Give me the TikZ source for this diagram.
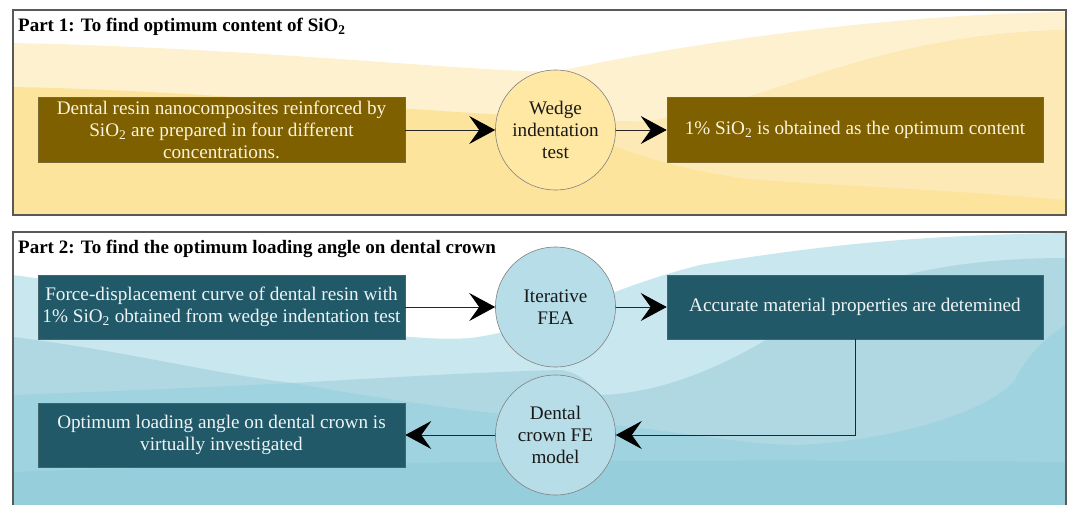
\documentclass[tikz,border=0pt]{standalone}
\usepackage{fontspec}
\setmainfont{Liberation Serif}
\usetikzlibrary{arrows.meta}
\definecolor{ybrown}{HTML}{7F6000}
\definecolor{ytext}{HTML}{FBF3DC}
\definecolor{ycirc}{HTML}{FFE8A3}
\definecolor{ylight}{HTML}{FEF1CF}
\definecolor{ymed}{HTML}{FDE9B6}
\definecolor{ygold}{HTML}{FDE49D}
\definecolor{teal}{HTML}{215968}
\definecolor{ttext}{HTML}{EEF4F5}
\definecolor{tcirc}{HTML}{B7DEE8}
\definecolor{blight}{HTML}{C9E7EE}
\definecolor{bmed}{HTML}{AFD8E3}
\definecolor{bdark}{HTML}{A0D3E0}
\definecolor{bdeep}{HTML}{96CEDB}
\definecolor{frame}{HTML}{595959}
\begin{document}
\begin{tikzpicture}[x=1pt,y=-1pt,
  txt/.style={font=\fontsize{19.2}{22}\selectfont},
  boxbase/.style={rectangle, minimum height=65pt, align=center, inner sep=0pt, txt, line width=0.6pt},
  p1box/.style={boxbase, fill=ybrown, draw=ybrown!70!black!80!white, text=ytext},
  p2box/.style={boxbase, fill=teal, draw=teal!70!black!80!white, text=ttext},
  circbase/.style={circle, minimum size=120pt, inner sep=0pt, align=center, txt, draw=black!50, line width=0.6pt, text=black!90},
  p1circ/.style={circbase, fill=ycirc},
  p2circ/.style={circbase, fill=tcirc},
  arr/.style={line width=1pt, draw=black!85, -{Stealth[length=26pt,width=28pt,inset=10pt,black]}},
  paneltitle/.style={anchor=west, inner sep=0pt, font=\fontsize{19}{22}\selectfont\bfseries}
]
\useasboundingbox (0,0) rectangle (1072,504);
\fill[white] (0,0) rectangle (1072,504);

% ---------- Panel 1 background ----------
\begin{scope}
\clip (13,10) rectangle (1066,215);
\fill[ylight] (13,43) .. controls (250,48) and (450,70) .. (555,72) .. controls (700,40) and (900,14) .. (1066,12) -- (1066,215) -- (13,215) -- cycle;
\fill[ygold] (13,87) .. controls (200,90) and (450,115) .. (640,122) .. controls (760,110) and (860,35) .. (1066,30) -- (1066,215) -- (13,215) -- cycle;
\begin{scope}
\clip (13,87) .. controls (200,90) and (450,115) .. (640,122) .. controls (760,110) and (860,35) .. (1066,30) -- (1066,215) -- (13,215) -- cycle;
\fill[ymed] (560,40) -- (1066,0) -- (1066,200) .. controls (950,190) and (850,186) .. (760,180) .. controls (680,172) and (620,150) .. (560,125) -- cycle;
\end{scope}
\end{scope}
\draw[frame, line width=1.2pt] (13,10) rectangle (1066,215);

% ---------- Panel 2 background ----------
\begin{scope}
\clip (13,232) rectangle (1066,506);
\fill[blight] (13,275) .. controls (200,300) and (380,345) .. (470,338) .. controls (540,330) and (600,290) .. (700,265) .. controls (850,240) and (950,235) .. (1066,233) -- (1066,506) -- (13,506) -- cycle;
\fill[bmed] (1066,258) .. controls (900,258) and (820,300) .. (769,338) .. controls (700,380) and (640,395) .. (596,395) .. controls (560,395) and (540,400) .. (520,410) -- (520,506) -- (1066,506) -- cycle;
\fill[bmed] (13,337) .. controls (120,350) and (220,375) .. (293,383) .. controls (380,378) and (480,372) .. (560,370) .. controls (580,372) and (590,385) .. (600,395) -- (600,506) -- (13,506) -- cycle;
\fill[bdark] (13,395) .. controls (150,390) and (230,386) .. (293,383) .. controls (360,395) and (450,410) .. (560,420) .. controls (680,430) and (740,445) .. (800,445) .. controls (900,440) and (990,410) .. (1015,380) .. controls (1030,350) and (1050,335) .. (1066,325) -- (1066,506) -- (13,506) -- cycle;
\fill[bdeep] (13,472) .. controls (300,462) and (700,458) .. (1066,462) -- (1066,506) -- (13,506) -- cycle;
\end{scope}
\draw[frame, line width=1.2pt] (13,232) rectangle (1066,510);

% ---------- Titles ----------
\node[paneltitle] (t1) at (18,27) {Part 1: To find optimum content of SiO\textsubscript{2}};
\node[paneltitle] (t2) at (18,249) {Part 2: To find the optimum loading angle on dental crown};

% ---------- Part 1 nodes ----------
\node[p1box, minimum width=367pt] (a1) at (221.5,130) {Dental resin nanocomposites reinforced by\\ SiO\textsubscript{2} are prepared in four different\\ concentrations.};
\node[p1circ] (c1) at (555.5,130) {Wedge\\ indentation\\ test};
\node[p1box, minimum width=376pt] (b1) at (855,130) {1\% SiO\textsubscript{2} is obtained as the optimum content};

% ---------- Part 2 nodes ----------
\node[p2box, minimum width=367pt, minimum height=64pt] (a2) at (221.5,307) {Force-displacement curve of dental resin with\\ 1\% SiO\textsubscript{2} obtained from wedge indentation test};
\node[p2circ] (c2) at (555.5,307) {Iterative\\ FEA};
\node[p2box, minimum width=376pt, minimum height=64pt] (b2) at (855,307) {Accurate material properties are detemined};
\node[p2circ] (c3) at (555.5,435) {Dental\\ crown FE\\ model};
\node[p2box, minimum width=367pt, minimum height=64pt] (d2) at (221.5,435) {Optimum loading angle on dental crown is\\ virtually investigated};

% ---------- Connectors ----------
\draw[arr] (a1.east) -- (c1.west);
\draw[arr] (c1.east) -- (b1.west);
\draw[arr] (a2.east) -- (c2.west);
\draw[arr] (c2.east) -- (b2.west);
\draw[arr] (b2.south) |- (c3.east);
\draw[arr] (c3.west) -- (d2.east);
\end{tikzpicture}
\end{document}
